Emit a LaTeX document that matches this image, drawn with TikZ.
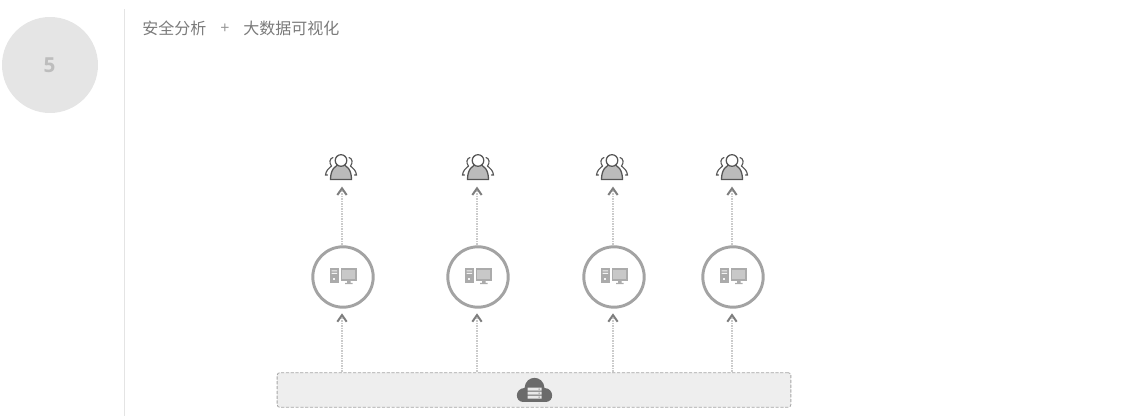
\documentclass[tikz,border=0pt]{standalone}
\usepackage{fontspec}
\setmainfont{Open Sans}
\newfontfamily\cjk{Noto Sans CJK SC}
\usetikzlibrary{arrows.meta,calc}
\definecolor{circfill}{HTML}{E5E5E5}
\definecolor{numcol}{HTML}{BDBDBD}
\definecolor{rulecol}{HTML}{E4E4E4}
\definecolor{titlecol}{HTML}{7A7A7A}
\definecolor{plustxt}{HTML}{969696}
\definecolor{ringcol}{HTML}{A3A3A3}
\definecolor{dotcol}{HTML}{CACACA}
\definecolor{tipcol}{HTML}{7E7E7E}
\definecolor{basefill}{HTML}{EEEEEE}
\definecolor{basedraw}{HTML}{A6A6A6}
\definecolor{cloudcol}{HTML}{6B6B6B}
\definecolor{pccol}{HTML}{ABABAB}
\definecolor{usercol}{HTML}{555555}
\definecolor{userfill}{HTML}{BBBBBB}
\tikzset{
  x=0.75pt,y=-0.75pt,
  badge/.style={circle,fill=circfill,minimum size=72pt,inner sep=0pt},
  title/.style={inner sep=0pt,anchor=west,text=titlecol,font=\cjk\fontsize{12}{14}\selectfont},
  ring/.style={circle,draw=ringcol,line width=2.2pt,fill=white,minimum size=45.3pt,inner sep=0pt},
  usernode/.style={inner sep=0pt,minimum width=24pt,minimum height=20pt},
  basebox/.style={draw=basedraw,dash pattern=on 2.4pt off 1.2pt,line width=0.6pt,fill=basefill,rounded corners=2pt,inner sep=0pt},
  flow/.style={draw=dotcol,line width=1.2pt,dash pattern=on 0.8pt off 0.45pt,
     -{Straight Barb[color=tipcol,length=5pt,width=7pt,line width=1.5pt]}},
  pcicon/.pic={
    \fill[pccol] (-13,-8) rectangle (-4.5,7);
    \fill[white!85!pccol] (-11.5,-6) rectangle (-6,-5) (-11.5,-3.5) rectangle (-6,-2.5);
    \fill[white!85!pccol] (-10.2,1.5) rectangle (-7.8,4);
    \fill[pccol] (-2.5,-8) rectangle (14,4.5);
    \fill[circfill!50!pccol] (-0.8,-6.3) rectangle (12.3,2.6);
    \fill[pccol] (4,4.5) rectangle (7.5,6.5) (2,6.5) rectangle (9.5,7.6);
  },
  usericon/.pic={
    \foreach \s in {-1,1}{
      \draw[usercol,line width=0.85pt,line cap=round,xscale=\s]
        (8,-9.5) .. controls (11.5,-8.5) and (12,-4) .. (9.5,-1)
        .. controls (12.5,1) and (15,4) .. (15.5,8) -- (13.5,8);
    }
    \draw[usercol,line width=0.95pt,fill=userfill] (-10.5,12.5) .. controls (-10.5,3) and (-6,-2.5) .. (0,-2.5) .. controls (6,-2.5) and (10.5,3) .. (10.5,12.5) -- cycle;
    \draw[usercol,line width=0.95pt,fill=white] (0,-6.5) circle (5.8);
  },
  cloudicon/.pic={
    \fill[cloudcol] (-11,11.5) -- (11,11.5)
      .. controls (20,11.5) and (20,-2) .. (10,-2.5)
      .. controls (9,-16) and (-9,-16) .. (-10,-2.5)
      .. controls (-20,-2) and (-20,11.5) .. (-11,11.5) -- cycle;
    \fill[white!85!cloudcol] (-7,-2.8) rectangle (7,0.2) (-7,1.2) rectangle (7,4.2) (-7,5.2) rectangle (7,8.2);
    \fill[cloudcol] (4,-1.8) rectangle (5,-0.8) (4,2.2) rectangle (5,3.2) (4,6.2) rectangle (5,7.2);
  }
}
\begin{document}
\begin{tikzpicture}
\useasboundingbox (0,0) rectangle (1125,416);
\node[badge] (badge) at (50,65) {};
\node[inner sep=0pt,text=numcol,font=\fontsize{15.5}{15.5}\selectfont\bfseries] (num) at (49.5,65) {5};
\coordinate (ruletop) at (124.5,9);
\coordinate (rulebot) at (124.5,416);
\draw[rulecol,line width=0.75pt] (ruletop) -- (rulebot);
\node[title] (t1) at (142,28.5) {安全分析};
\node[title,anchor=center,text=plustxt,font=\fontsize{12}{12}\selectfont] (plus) at (225,29) {+};
\node[title] (t2) at (243,28.5) {大数据可视化};
\node[basebox,minimum width=385.3pt,minimum height=26pt] (base) at (534,390) {};
\pic at (534.5,390.5) {cloudicon};
\foreach \n/\cx/\ux in {1/343/341,2/478/478,3/614/612,4/733/732}{
  \node[ring] (c\n) at (\cx,277) {};
  \pic at (\cx,276.5) {pcicon};
  \node[usernode] (u\n) at (\ux,167) {};
  \pic at (\ux,167) {usericon};
  \draw[flow,shorten >=3.5pt] ([xshift=-0.75pt]base.north -| c\n.south) -- ([xshift=-0.75pt]c\n.south);
  \draw[flow,shorten >=4.5pt] ([xshift=-0.75pt]c\n.north) -- ([xshift=-0.75pt]c\n.north |- u\n.south);
}
\end{tikzpicture}
\end{document}
